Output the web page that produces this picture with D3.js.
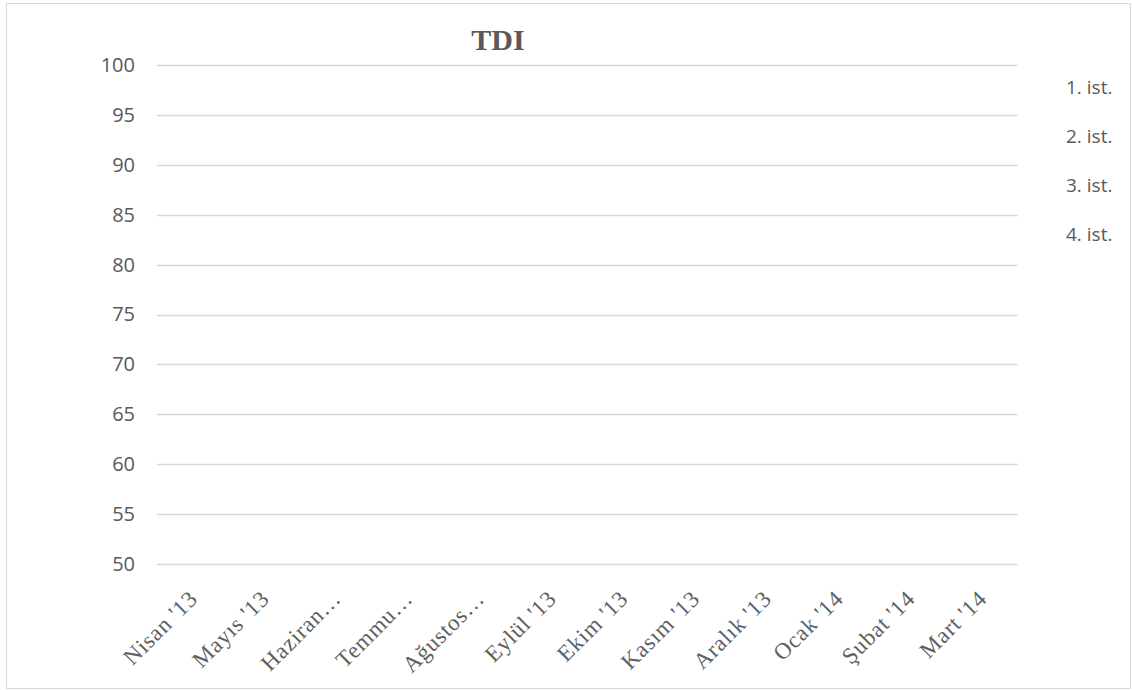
<!DOCTYPE html>
<html>
<head>
<meta charset="utf-8">
<script src="https://cdn.jsdelivr.net/npm/d3@7"></script>
<style>
  html, body { margin: 0; padding: 0; background: #fff; }
  svg { display: block; }
</style>
</head>
<body>
<svg id="chart" width="1132" height="690"></svg>
<script>
// Months shown on the category axis (long names are cut with an ellipsis)
const months = ["Nisan '13", "Mayıs '13", "Haziran…", "Temmu…", "Ağustos…", "Eylül '13",
                "Ekim '13", "Kasım '13", "Aralık '13", "Ocak '14", "Şubat '14", "Mart '14"];

// Series names listed in the legend
const seriesNames = ["1. ist.", "2. ist.", "3. ist.", "4. ist."];

// Monthly TDI readings per series (no readings recorded yet)
const ist1 = [null, null, null, null, null, null, null, null, null, null, null, null];
const ist2 = [null, null, null, null, null, null, null, null, null, null, null, null];
const ist3 = [null, null, null, null, null, null, null, null, null, null, null, null];
const ist4 = [null, null, null, null, null, null, null, null, null, null, null, null];

// Value axis ticks
const yTicks = [50, 55, 60, 65, 70, 75, 80, 85, 90, 95, 100];

const seriesValues = [ist1, ist2, ist3, ist4];
const seriesColors = ["#4472c4", "#ed7d31", "#a5a5a5", "#ffc000"];

const svg = d3.select("#chart");
const textColor = "#595959";
const gridColor = "#d9d9d9";

// Chart frame
svg.append("rect")
  .attr("x", 6.5).attr("y", 3.5)
  .attr("width", 1124).attr("height", 685)
  .attr("fill", "#fff")
  .attr("stroke", gridColor).attr("stroke-width", 1);

const plot = { left: 157, right: 1018, top: 65, bottom: 564 };

const x = d3.scaleBand()
  .domain(months)
  .range([plot.left, plot.right]);

const y = d3.scaleLinear()
  .domain([50, 100])
  .range([plot.bottom, plot.top]);

// Horizontal gridlines
svg.append("g")
  .selectAll("line")
  .data(yTicks)
  .join("line")
  .attr("x1", plot.left).attr("x2", plot.right)
  .attr("y1", d => Math.round(y(d)) + 0.5)
  .attr("y2", d => Math.round(y(d)) + 0.5)
  .attr("stroke", gridColor)
  .attr("stroke-width", 1.3);

// Value axis labels
const yAxis = d3.axisLeft(y)
  .tickValues(yTicks)
  .tickSize(0)
  .tickPadding(22);

const yG = svg.append("g")
  .attr("transform", `translate(${plot.left},0)`)
  .call(yAxis);
yG.select(".domain").remove();
yG.selectAll("text")
  .attr("fill", textColor)
  .style("font-family", "'Open Sans', 'Noto Sans', sans-serif")
  .style("font-size", "20px");

// Category axis labels, rotated
const xAxis = d3.axisBottom(x).tickSize(0).tickPadding(0);
const xG = svg.append("g")
  .attr("transform", `translate(0,${plot.bottom})`)
  .call(xAxis);
xG.select(".domain").remove();
xG.selectAll("text")
  .attr("fill", "#606060")
  .style("font-family", "'Liberation Serif', 'DejaVu Serif', serif")
  .style("font-size", "23px")
  .style("letter-spacing", "0.8px")
  .attr("text-anchor", "end")
  .attr("y", 0)
  .attr("dy", "0")
  .attr("transform", "translate(6,36) rotate(-45)");

// Lines for each series (only defined points are drawn)
const line = d3.line()
  .defined(d => d != null)
  .x((d, i) => x(months[i]) + x.bandwidth() / 2)
  .y(d => y(d));

svg.append("g")
  .selectAll("path")
  .data(seriesValues)
  .join("path")
  .attr("d", d => line(d))
  .attr("fill", "none")
  .attr("stroke", (d, i) => seriesColors[i])
  .attr("stroke-width", 2.25);

// Title
svg.append("text")
  .attr("x", 498).attr("y", 50)
  .attr("text-anchor", "middle")
  .attr("fill", textColor)
  .style("font-family", "'Liberation Serif', 'DejaVu Serif', serif")
  .style("font-weight", "bold")
  .style("font-size", "30px")
  .text("TDI");

// Legend
svg.append("g")
  .selectAll("text")
  .data(seriesNames)
  .join("text")
  .attr("x", 1066)
  .attr("y", (d, i) => 94 + i * 49)
  .attr("fill", textColor)
  .style("font-family", "'Open Sans', 'Noto Sans', sans-serif")
  .style("font-size", "19px")
  .text(d => d);
</script>
</body>
</html>
